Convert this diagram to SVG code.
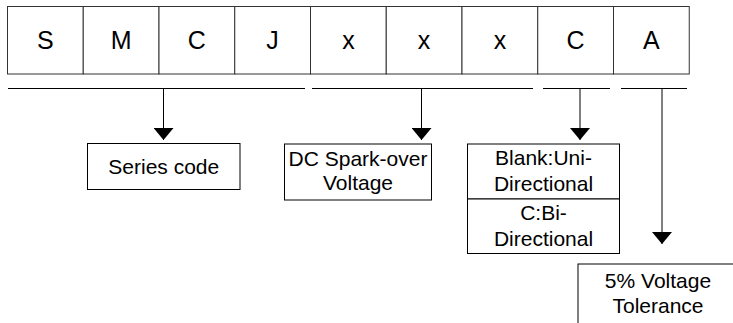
<svg xmlns="http://www.w3.org/2000/svg" width="733" height="323" viewBox="0 0 733 323">
<style>
.cell{fill:#fff;stroke:#333;stroke-width:1}
.box{fill:#fff;stroke:#000;stroke-width:1}
.big{font-family:"Liberation Sans",Arial,sans-serif;font-size:25px;fill:#000;text-anchor:middle}
.lbl{font-family:"Liberation Sans",Arial,sans-serif;font-size:21px;fill:#000;text-anchor:middle}
.ln{stroke:#000;stroke-width:1;fill:none}
</style>
<defs>
<marker id="ah" markerWidth="12" markerHeight="20" refX="12" refY="10" orient="auto" markerUnits="userSpaceOnUse" viewBox="0 0 12 20">
<path d="M0,0 L12,10 L0,20 Z" fill="#000"/>
</marker>
</defs>
<rect width="733" height="323" fill="#fff"/>
<g id="cell-S"><rect class="cell" x="7.5" y="6.5" width="75.75" height="67.5"/><text class="big" x="45.4" y="49">S</text></g>
<g id="cell-M"><rect class="cell" x="83.25" y="6.5" width="75.75" height="67.5"/><text class="big" x="121.1" y="49">M</text></g>
<g id="cell-C1"><rect class="cell" x="159" y="6.5" width="75.75" height="67.5"/><text class="big" x="196.9" y="49">C</text></g>
<g id="cell-J"><rect class="cell" x="234.75" y="6.5" width="75.75" height="67.5"/><text class="big" x="272.6" y="49">J</text></g>
<g id="cell-x1"><rect class="cell" x="310.5" y="6.5" width="75.75" height="67.5"/><text class="big" x="348.4" y="49">x</text></g>
<g id="cell-x2"><rect class="cell" x="386.25" y="6.5" width="75.75" height="67.5"/><text class="big" x="424.1" y="49">x</text></g>
<g id="cell-x3"><rect class="cell" x="462" y="6.5" width="75.75" height="67.5"/><text class="big" x="499.9" y="49">x</text></g>
<g id="cell-C2"><rect class="cell" x="537.75" y="6.5" width="75.75" height="67.5"/><text class="big" x="575.6" y="49">C</text></g>
<g id="cell-A"><rect class="cell" x="613.5" y="6.5" width="75.75" height="67.5"/><text class="big" x="651.4" y="49">A</text></g>

<g id="connectors">
<line class="ln" x1="8" y1="88.5" x2="305" y2="88.5"/>
<line class="ln" x1="312" y1="88.5" x2="533" y2="88.5"/>
<line class="ln" x1="543" y1="88.5" x2="610" y2="88.5"/>
<line class="ln" x1="621" y1="88.5" x2="687" y2="88.5"/>
<line class="ln" x1="163.5" y1="88.5" x2="163.5" y2="140" marker-end="url(#ah)"/>
<line class="ln" x1="421.5" y1="88.5" x2="421.5" y2="140" marker-end="url(#ah)"/>
<line class="ln" x1="580" y1="88.5" x2="580" y2="140" marker-end="url(#ah)"/>
<line class="ln" x1="662" y1="88.5" x2="662" y2="244" marker-end="url(#ah)"/>
</g>

<g id="series-code"><rect class="box" x="87.5" y="143.5" width="152.5" height="46"/><text class="lbl" x="163.75" y="174">Series code</text></g>
<g id="dc-sparkover"><rect class="box" x="284.5" y="144" width="147" height="56"/><text class="lbl" x="358" y="166">DC Spark-over</text><text class="lbl" x="358" y="190">Voltage</text></g>
<g id="direction">
<rect class="box" x="467.5" y="144" width="152" height="55"/>
<text class="lbl" x="543.5" y="165">Blank:Uni-</text><text class="lbl" x="543.5" y="191">Directional</text>
<rect class="box" x="467.5" y="199" width="152" height="54.5"/>
<text class="lbl" x="543.5" y="220">C:Bi-</text><text class="lbl" x="543.5" y="246">Directional</text>
</g>
<g id="tolerance"><rect class="box" x="578" y="264" width="160" height="80"/><text class="lbl" x="658" y="288">5% Voltage</text><text class="lbl" x="658" y="313">Tolerance</text></g>
</svg>
